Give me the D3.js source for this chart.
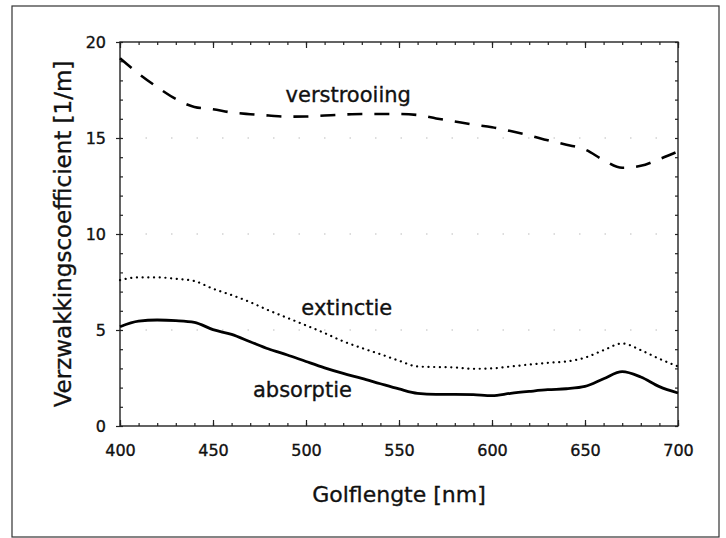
<!DOCTYPE html>
<html>
<head>
<meta charset="utf-8">
<script src="https://cdn.jsdelivr.net/npm/d3@7"></script>
<style>
  body { margin: 0; background: #fff; }
  svg { display: block; }
  text { font-family: "DejaVu Sans", sans-serif; fill: #111; stroke: #111; stroke-width: 0.35px; }
</style>
</head>
<body>
<div id="chart"></div>
<script>
// wavelength (nm), 10 nm steps
var wavelengths = [400, 410, 420, 430, 440, 450, 460, 470, 480, 490, 500,
                   510, 520, 530, 540, 550, 560, 570, 580, 590, 600,
                   610, 620, 630, 640, 650, 660, 670, 680, 690, 700];

// verzwakkingscoefficient [1/m]
var verstrooiing = [19.15, 18.35, 17.65, 17.03, 16.62, 16.50, 16.33, 16.24, 16.17, 16.11, 16.12,
                    16.17, 16.22, 16.25, 16.25, 16.25, 16.20, 16.02, 15.86, 15.70, 15.56,
                    15.36, 15.14, 14.88, 14.65, 14.40, 13.85, 13.45, 13.55, 13.90, 14.30];
var extinctie    = [7.60, 7.74, 7.74, 7.67, 7.55, 7.15, 6.82, 6.45, 6.02, 5.63, 5.24,
                    4.84, 4.41, 4.06, 3.74, 3.40, 3.10, 3.07, 3.05, 2.98, 3.00,
                    3.10, 3.20, 3.29, 3.36, 3.56, 3.95, 4.30, 3.95, 3.50, 3.10];
var absorptie    = [5.17, 5.46, 5.52, 5.49, 5.40, 5.02, 4.77, 4.39, 4.01, 3.70, 3.36,
                    3.03, 2.74, 2.48, 2.20, 1.93, 1.70, 1.65, 1.65, 1.63, 1.58,
                    1.70, 1.80, 1.89, 1.94, 2.06, 2.46, 2.83, 2.55, 2.05, 1.72];

var xTicks = [400, 450, 500, 550, 600, 650, 700];
var yTicks = [0, 5, 10, 15, 20];
var gridValues = [5, 10, 15];

// curve labels: [text, wavelength, value]
var labelNames = ["verstrooiing", "extinctie", "absorptie"];
var labelX = [489, 497.5, 471.5];
var labelY = [16.9, 5.78, 1.53];

//set default values
var width = 726;
var height = 538;
var plot = {"left": 120, "right": 678, "top": 42, "bottom": 426};

var svg = d3.select('#chart').append('svg')
    .attr('width', width)
    .attr('height', height);

svg.append('rect')
    .attr('width', width).attr('height', height)
    .attr('fill', '#fff');

// outer frame of the figure
svg.append('rect')
    .attr('x', 12).attr('y', 6)
    .attr('width', 707).attr('height', 531)
    .attr('fill', 'none')
    .attr('stroke', '#333')
    .attr('stroke-width', 1.2);

var x = d3.scaleLinear().domain([400, 700]).range([plot.left, plot.right]);
var y = d3.scaleLinear().domain([0, 20]).range([plot.bottom, plot.top]);

// faint dotted grid (almost gone in the scan)
svg.selectAll('.grid')
    .data(gridValues)
    .enter()
    .append('line')
    .attr('x1', plot.left).attr('x2', plot.right)
    .attr('y1', function(d){ return y(d); })
    .attr('y2', function(d){ return y(d); })
    .attr('stroke', '#bbb')
    .attr('stroke-width', 1)
    .attr('stroke-dasharray', '1.5,24');

// axes: minor ticks first, then majors
function drawAxis(axis, tx, ty, fontSize) {
    var g = svg.append('g')
        .attr('transform', 'translate(' + tx + ',' + ty + ')')
        .call(axis);
    g.select('.domain').remove();
    g.selectAll('line').attr('stroke', '#222').attr('stroke-width', 1.2);
    g.selectAll('text')
        .attr('font-family', '"DejaVu Sans", sans-serif')
        .attr('font-size', fontSize)
        .attr('fill', '#111');
    return g;
}

var minorX = d3.range(400, 701, 10);
var minorY = d3.range(0, 21, 1);

drawAxis(d3.axisBottom(x).tickValues(minorX).tickSize(-3).tickFormat(''), 0, plot.bottom, 16);
drawAxis(d3.axisBottom(x).tickValues(xTicks).tickSize(-6).tickPadding(19).tickFormat(d3.format('d')), 0, plot.bottom, 16);
drawAxis(d3.axisTop(x).tickValues(minorX).tickSize(-3).tickFormat(''), 0, plot.top, 16);
drawAxis(d3.axisTop(x).tickValues(xTicks).tickSize(-6).tickFormat(''), 0, plot.top, 16);
drawAxis(d3.axisLeft(y).tickValues(minorY).tickSize(-3).tickFormat(''), plot.left, 0, 16);
drawAxis(d3.axisLeft(y).tickValues(yTicks).tickSize(4).tickPadding(10).tickFormat(d3.format('d')), plot.left, 0, 16);
drawAxis(d3.axisRight(y).tickValues(minorY).tickSize(-3).tickFormat(''), plot.right, 0, 16);

// plot border
svg.append('rect')
    .attr('x', plot.left).attr('y', plot.top)
    .attr('width', plot.right - plot.left)
    .attr('height', plot.bottom - plot.top)
    .attr('fill', 'none')
    .attr('stroke', '#222')
    .attr('stroke-width', 1.4);

// the three curves
var series = [
    {'values': verstrooiing, 'width': 2.6, 'dash': '15,12', 'cap': 'butt'},
    {'values': extinctie, 'width': 2.2, 'dash': '0.1,5.6', 'cap': 'round'},
    {'values': absorptie, 'width': 2.8, 'dash': null, 'cap': 'butt'}
];

var line = d3.line()
    .x(function(d){ return x(d[0]); })
    .y(function(d){ return y(d[1]); })
    .curve(d3.curveMonotoneX);

svg.selectAll('.curve')
    .data(series)
    .enter()
    .append('path')
    .attr('d', function(s){ return line(d3.zip(wavelengths, s.values)); })
    .attr('fill', 'none')
    .attr('stroke', '#000')
    .attr('stroke-width', function(s){ return s.width; })
    .attr('stroke-linecap', function(s){ return s.cap; })
    .attr('stroke-dasharray', function(s){ return s.dash; });

// curve labels
svg.selectAll('.curve_label')
    .data(labelNames)
    .enter()
    .append('text')
    .attr('x', function(d, i){ return x(labelX[i]); })
    .attr('y', function(d, i){ return y(labelY[i]); })
    .attr('font-size', '21px')
    .text(function(d){ return d; });

// axis titles
svg.append('text')
    .attr('x', (plot.left + plot.right) / 2)
    .attr('y', 502)
    .attr('text-anchor', 'middle')
    .attr('font-size', '22px')
    .text('Golflengte [nm]');

svg.append('text')
    .attr('transform', 'translate(71,' + ((plot.top + plot.bottom) / 2) + ') rotate(-90)')
    .attr('text-anchor', 'middle')
    .attr('font-size', '23px')
    .text('Verzwakkingscoefficient [1/m]');
</script>
</body>
</html>
